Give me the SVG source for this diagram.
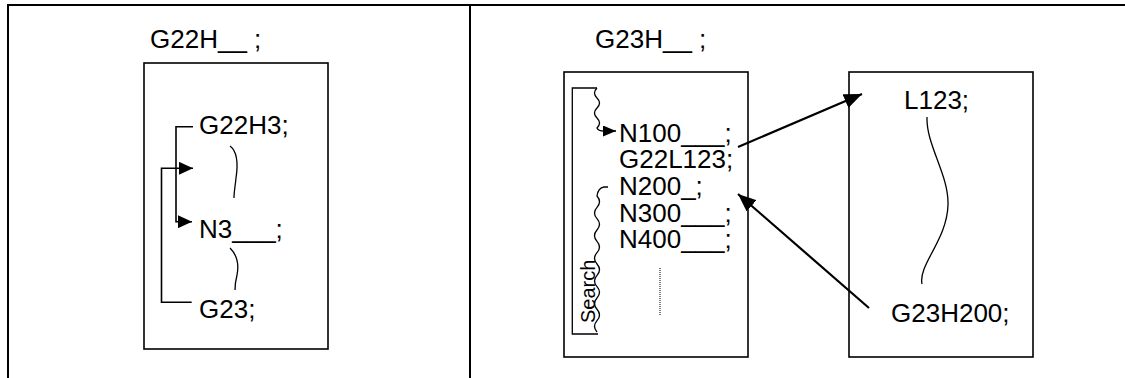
<svg xmlns="http://www.w3.org/2000/svg" width="1125" height="378" viewBox="0 0 1125 378">
<style>
.t{font-family:"Liberation Sans",Arial,sans-serif;font-size:26px;fill:#000}
.s{font-family:"Liberation Sans",Arial,sans-serif;font-size:20px;fill:#000}
.box{fill:none;stroke:#000;stroke-width:1.6}
.frame{fill:none;stroke:#000;stroke-width:2}
.ln{fill:none;stroke:#000;stroke-width:1.6}
.ar{fill:none;stroke:#000;stroke-width:2.2}
.sq{fill:none;stroke:#000;stroke-width:1.3}
</style>
<defs>
<marker id="ah" markerUnits="userSpaceOnUse" markerWidth="14" markerHeight="13" refX="14" refY="6.5" orient="auto">
<path d="M0,0 L14,6.5 L0,13 z" fill="#000"/>
</marker>
<marker id="ahs" markerUnits="userSpaceOnUse" markerWidth="13" markerHeight="11" refX="13" refY="5.5" orient="auto">
<path d="M0,0 L13,5.5 L0,11 z" fill="#000"/>
</marker>
<marker id="ahb" markerUnits="userSpaceOnUse" markerWidth="18" markerHeight="15" refX="18" refY="7.5" orient="auto">
<path d="M0,0 L18,7.5 L0,15 z" fill="#000"/>
</marker>
</defs>
<rect width="1125" height="378" fill="#fff"/>
<g id="frame">
<path class="frame" d="M8,378 V5 H1125"/>
<path class="frame" d="M470,5 V378"/>
</g>
<g id="left-panel">
<text class="t" x="150" y="48">G22H__ ;</text>
<g id="left-box">
<rect class="box" x="144" y="63" width="184" height="286"/>
<text class="t" x="199" y="134">G22H3;</text>
<text class="t" x="199" y="238">N3___;</text>
<text class="t" x="199" y="318">G23;</text>
<path class="sq" d="M230,146 C238,152 238,165 236,178 C235,188 234,192 234,198"/>
<path class="sq" d="M230,248 C238,256 239,265 237,275 C235,283 235,287 235,290"/>
</g>
</g>
<g id="right-panel">
<text class="t" x="595" y="48">G23H__ ;</text>
<g id="main-box">
<rect class="box" x="564" y="72" width="184" height="285"/>
<text class="t" x="619" y="141.7">N100___;</text>
<text class="t" x="619" y="168.3">G22L123;</text>
<text class="t" x="619" y="195">N200_;</text>
<text class="t" x="619" y="221.7">N300___;</text>
<text class="t" x="619" y="248.3">N400___;</text>
<path d="M660,268 V315" stroke="#000" stroke-width="1" stroke-dasharray="1,1" fill="none"/>
</g>
<g id="search">
<path class="sq" d="M597,88 H572.3 V334 H598"/>
<path class="sq" d="M608,187 H604 Q598,188 597,196 q5,5.67 0,11.33 t0,11.33 t0,11.33 t0,11.33 t0,11.33 t0,11.33 t0,11.33 t0,11.33 t0,11.33 t0,11.33 t0,11.33 t0,11.33"/>
<text class="s" transform="translate(594.5,323) rotate(-90)">Search</text>
</g>
<g id="sub-box">
<rect class="box" x="849" y="72" width="184" height="285"/>
<text class="t" x="904" y="109">L123;</text>
<text class="t" x="891" y="322">G23H200;</text>
<path class="sq" d="M927,117 C926,145 949,175 948,205 C947,240 918,265 922,284"/>
</g>
</g>
<g id="connectors">
<path class="ln" d="M193,126.7 H176 V221.7 H192" marker-end="url(#ah)"/>
<path class="ln" d="M191.7,302.3 H161.5 V168.3 H193" marker-end="url(#ah)"/>
<path class="sq" d="M597,88 q-5,5 0,10 t0,10 t0,10 t0,10 Q598,131 604,131 H616" marker-end="url(#ahs)"/>
<path class="ar" d="M738,147 L862,94" marker-end="url(#ahb)"/>
<path class="ar" d="M869,308 L738,194" marker-end="url(#ahb)"/>
</g>
</svg>
